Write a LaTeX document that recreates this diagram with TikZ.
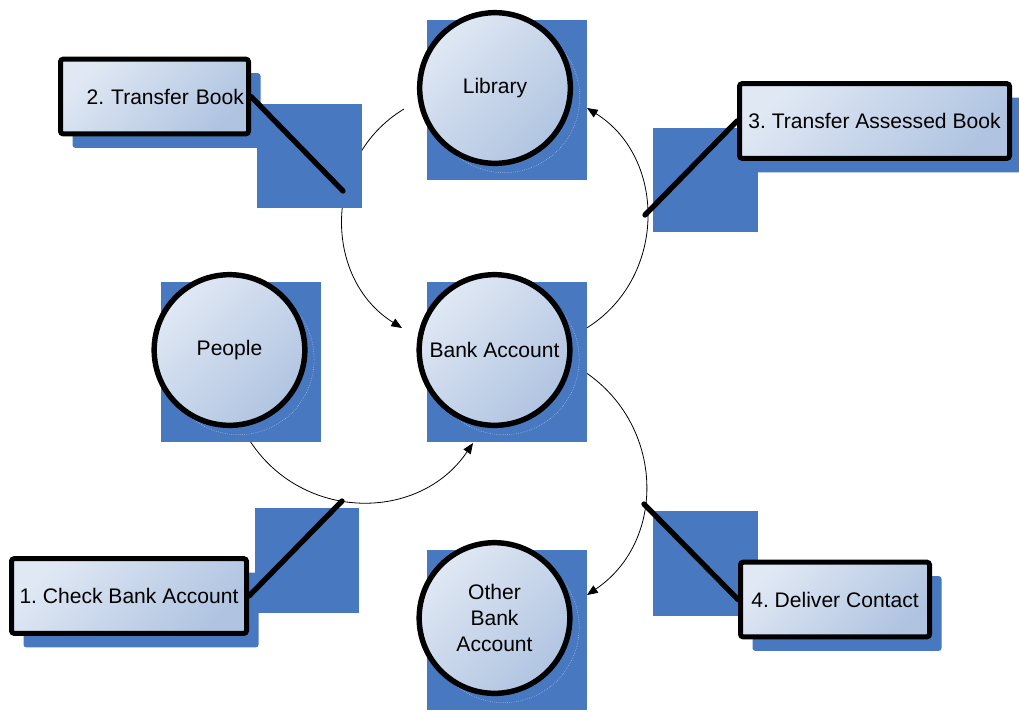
\documentclass[tikz,border=0pt]{standalone}
\usepackage{fontspec}
\setmainfont{Liberation Sans}
\usetikzlibrary{arrows.meta,shadows}
\frenchspacing
\definecolor{boxblue}{RGB}{72,120,192}
\definecolor{shadelight}{RGB}{224,232,244}
\definecolor{shadedark}{RGB}{176,196,225}
\tikzset{
  place/.style={circle, draw=black, line width=4.1pt, minimum size=113pt, inner sep=0pt,
    top color=shadelight, bottom color=shadedark, shading angle=45, align=center,
    font=\fontsize{15.8}{19.5}\selectfont,
    general shadow={draw=white!65!boxblue, line width=0.4pt, densely dotted,
      shadow xshift=7pt, shadow yshift=-7pt}},
  action/.style={rectangle, rounded corners=2pt, draw=black, line width=3.75pt, inner sep=0pt,
    minimum height=56pt, top color=shadelight, bottom color=shadedark, shading angle=45,
    font=\fontsize{15.8}{19.5}\selectfont,
    general shadow={fill=boxblue, shadow xshift=9pt, shadow yshift=-10.5pt}},
  backsq/.style={fill=boxblue},
  flow/.style={line width=0.6pt, -{Triangle[length=8pt,width=6.5pt]}},
  leader/.style={line width=4pt, line cap=round},
}
\begin{document}
\begin{tikzpicture}[x=0.75pt, y=0.75pt]
  \useasboundingbox (0,0) rectangle (1019,-711);
  % ends of the flows
  \coordinate (libout) at (404,-109);
  \coordinate (bankin) at (402,-328);
  \coordinate (bankout) at (585,-329);
  \coordinate (libin) at (587,-108);
  \coordinate (peopleout) at (250,-441);
  \coordinate (bankinb) at (473,-443);
  \coordinate (bankoutb) at (585,-372);
  \coordinate (otherin) at (587,-595);
  \draw[flow] (libout) to[out=211, in=148, looseness=1.1] (bankin);
  \draw[flow] (bankout) to[out=31, in=-32, looseness=1.1] (libin);
  \draw[flow] (peopleout) to[out=303, in=236, looseness=1.1] (bankinb);
  \draw[flow] (bankoutb) to[out=-34, in=34, looseness=1.1] (otherin);
  % squares behind
  \fill[backsq] (427,-20) rectangle (587,-180);
  \fill[backsq] (427,-282) rectangle (587,-442);
  \fill[backsq] (161,-282) rectangle (321,-442);
  \fill[backsq] (427,-550) rectangle (587,-710);
  \fill[backsq] (257,-104) rectangle (362,-208);
  \fill[backsq] (653,-128) rectangle (758,-232);
  \fill[backsq] (255,-508) rectangle (359,-613);
  \fill[backsq] (653,-511) rectangle (758,-616);
  % places
  \node[place] (library) at (495,-88) {Library};
  \node[place] (bank) at (494.5,-350) {Bank Account};
  \node[place] (people) at (229.5,-350) {People};
  \node[place] (other) at (494.5,-618) {Other\\Bank\\Account};
  % actions
  \node[action, minimum width=141pt, text width=134pt, align=right] (transfer) at (154.5,-96.5) {2. Transfer Book};
  \node[action, minimum width=202.5pt] (assessed) at (874.5,-121) {3. Transfer Assessed Book};
  \node[action, minimum width=176.25pt] (check) at (129,-596) {1. Check Bank Account};
  \node[action, minimum width=141.75pt] (deliver) at (835,-599.5) {4. Deliver Contact};
  \coordinate (p2) at (343,-191);
  \coordinate (p3) at (645,-215);
  \coordinate (p1) at (342,-501);
  \coordinate (p4) at (644,-504);
  \draw[leader] (transfer.east) -- (p2);
  \draw[leader] (assessed.west) -- (p3);
  \draw[leader] (check.east) -- (p1);
  \draw[leader] (deliver.west) -- (p4);
\end{tikzpicture}
\end{document}
